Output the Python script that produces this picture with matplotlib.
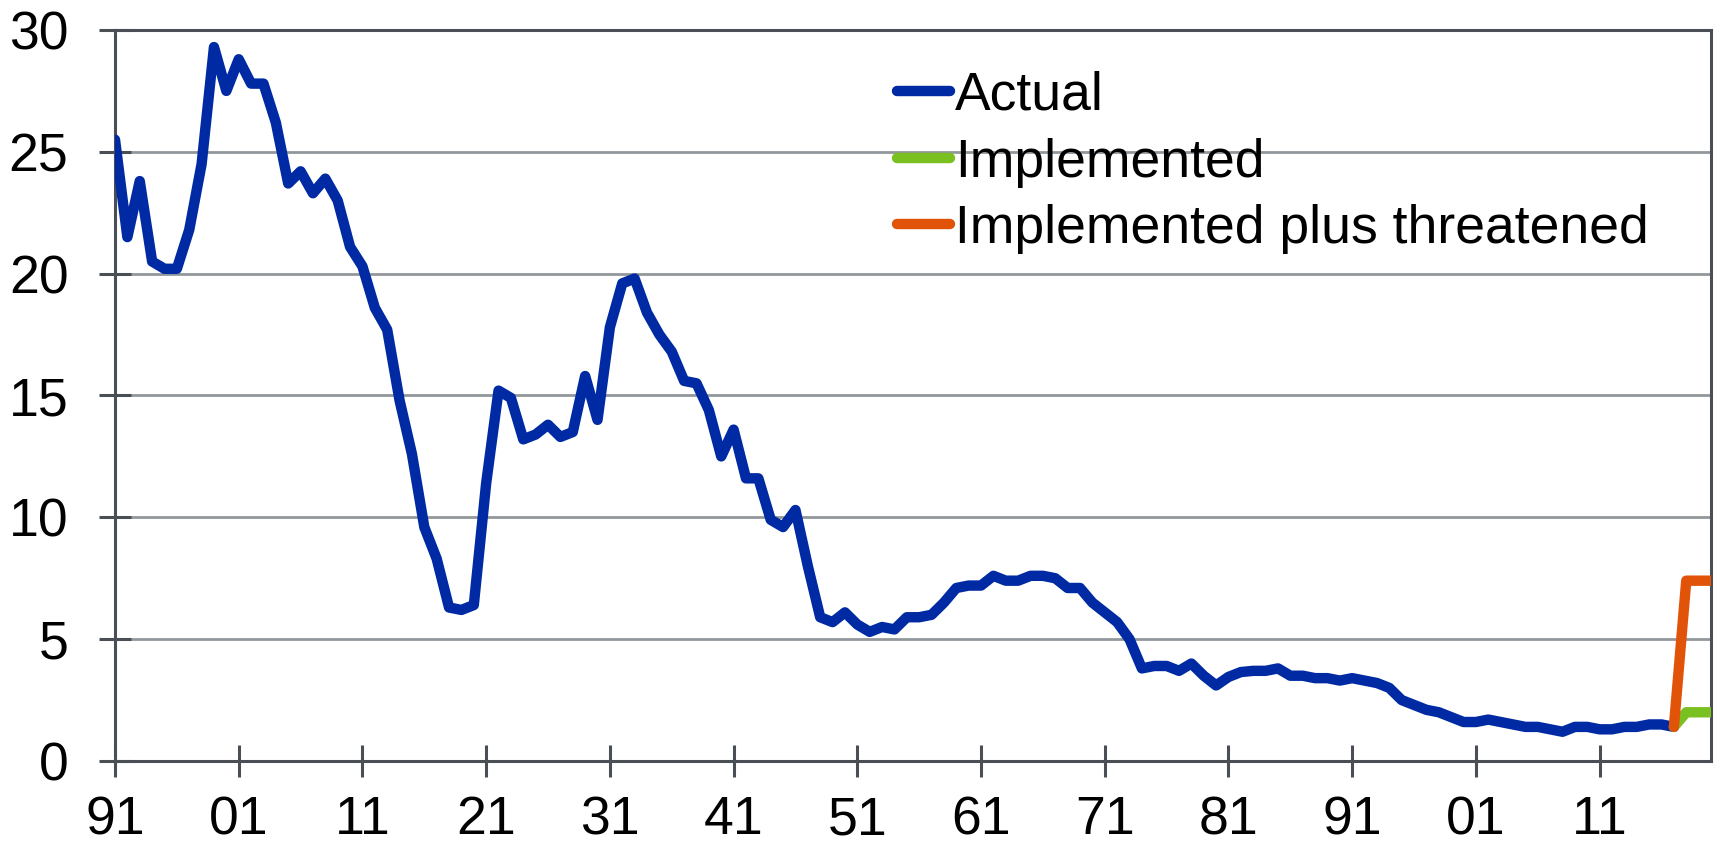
import matplotlib
matplotlib.use("Agg")
import matplotlib.pyplot as plt
import matplotlib.transforms as mtransforms
import numpy as np

plt.rcParams['font.family'] = ['Liberation Sans', 'DejaVu Sans']

# ---- data ----
actual_years = list(range(1891, 2018))
actual_values = [
    25.5, 21.5, 23.8, 20.5, 20.2, 20.2, 21.8, 24.5, 29.3, 27.5,   # 1891-1900
    28.8, 27.8, 27.8, 26.2, 23.7, 24.2, 23.3, 23.9, 23.0, 21.1,   # 1901-1910
    20.3, 18.6, 17.7, 14.8, 12.6, 9.6, 8.3, 6.3, 6.2, 6.4,        # 1911-1920
    11.4, 15.2, 14.9, 13.2, 13.4, 13.8, 13.3, 13.5, 15.8, 14.0,   # 1921-1930
    17.8, 19.6, 19.8, 18.4, 17.5, 16.8, 15.6, 15.5, 14.4, 12.5,   # 1931-1940
    13.6, 11.6, 11.6, 9.9, 9.6, 10.3, 8.0, 5.9, 5.7, 6.1,         # 1941-1950
    5.6, 5.3, 5.5, 5.4, 5.9, 5.9, 6.0, 6.5, 7.1, 7.2,             # 1951-1960
    7.2, 7.6, 7.4, 7.4, 7.6, 7.6, 7.5, 7.1, 7.1, 6.5,             # 1961-1970
    6.1, 5.7, 5.0, 3.8, 3.9, 3.9, 3.7, 4.0, 3.5, 3.1,             # 1971-1980
    3.45, 3.65, 3.7, 3.7, 3.8, 3.5, 3.5, 3.4, 3.4, 3.3,           # 1981-1990
    3.4, 3.3, 3.2, 3.0, 2.5, 2.3, 2.1, 2.0, 1.8, 1.6,             # 1991-2000
    1.6, 1.7, 1.6, 1.5, 1.4, 1.4, 1.3, 1.2, 1.4, 1.4,             # 2001-2010
    1.3, 1.3, 1.4, 1.4, 1.5, 1.5, 1.4,                            # 2011-2017
]
scenario_years = [2017, 2018, 2019, 2020]
implemented_values = [1.4, 2.0, 2.0, 2.0]
threatened_values = [1.4, 7.4, 7.4, 7.4]

series_labels = ["Actual", "Implemented", "Implemented plus threatened"]
x_tick_years = list(range(1891, 2012, 10))
x_tick_labels = ["91", "01", "11", "21", "31", "41", "51", "61", "71", "81", "91", "01", "11"]
y_ticks = [0, 5, 10, 15, 20, 25, 30]

# ---- styling ----
BLUE = "#002AA3"
GREEN = "#7BC021"
ORANGE = "#E2530A"
GRID = "#92979C"
SPINE = "#4A4F55"
FS = 38.5
LW = 7.5

fig = plt.figure(figsize=(17.18, 8.46), dpi=100)
ax = fig.add_axes([115/1718, 1-761/846, (1711-115)/1718, (761-30)/846])

ax.plot(actual_years, actual_values, color=BLUE, lw=LW, solid_joinstyle='round',
        solid_capstyle='round', label=series_labels[0], zorder=3)
ax.plot(scenario_years, implemented_values, color=GREEN, lw=LW, solid_joinstyle='round',
        solid_capstyle='round', label=series_labels[1], zorder=4)
ax.plot(scenario_years, threatened_values, color=ORANGE, lw=LW, solid_joinstyle='round',
        solid_capstyle='round', label=series_labels[2], zorder=5)

ax.set_xlim(1891, 2020)
ax.set_ylim(0, 30)
ax.set_xticks(x_tick_years)
ax.set_xticklabels([])
ax.set_yticks(y_ticks)
ax.set_yticklabels([str(v) for v in y_ticks])

# x tick labels drawn as plain texts at the tick positions, baseline-aligned
xlab_trans = mtransforms.blended_transform_factory(ax.transData, ax.transAxes) + \
    mtransforms.ScaledTranslation(0, -73/100, fig.dpi_scale_trans)
for yr, lab in zip(x_tick_years, x_tick_labels):
    ax.text(yr, 0, lab, transform=xlab_trans, ha='center', va='baseline',
            fontsize=FS, color='black', clip_on=False)

ax.grid(axis='y', color=GRID, lw=2.0, zorder=1)
ax.set_axisbelow(True)
for s in ax.spines.values():
    s.set_color(SPINE)
    s.set_linewidth(2.2)
    s.set_zorder(2)

ax.tick_params(axis='both', direction='inout', length=23, width=2.2, color=SPINE,
               labelsize=FS, labelcolor='black')
ax.tick_params(axis='y', pad=22)

leg = ax.legend(loc='upper left', bbox_to_anchor=(897/1718, 1-71/846),
                bbox_transform=fig.transFigure, frameon=False, fontsize=FS,
                handlelength=1.0, handletextpad=0.08, labelspacing=0.31,
                borderpad=0, borderaxespad=0)

fig.savefig("out.png", dpi=100)
